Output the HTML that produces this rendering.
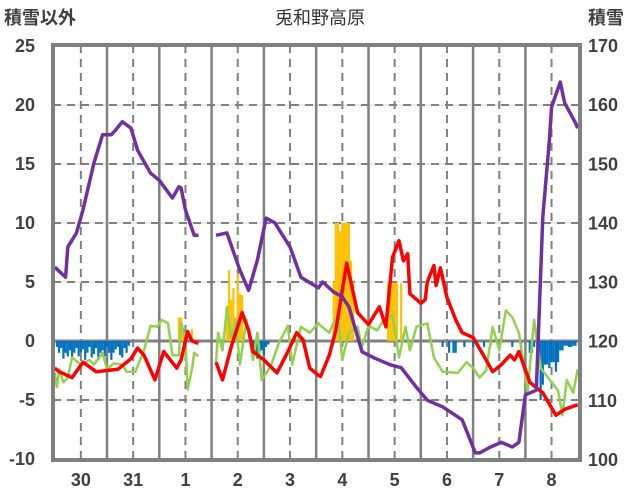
<!DOCTYPE html>
<html><head><meta charset="utf-8">
<style>
html,body{margin:0;padding:0;background:#fff;}
svg{display:block;font-family:"Liberation Sans","Noto Sans CJK JP",sans-serif;}
</style></head>
<body>
<svg id="chart" width="636" height="501" viewBox="0 0 636 501" xmlns="http://www.w3.org/2000/svg">
<text x="320" y="24" text-anchor="middle" font-size="18" fill="#333">兎和野高原</text>
<text x="4" y="24" font-size="18" font-weight="bold" fill="#404040">積雪以外</text>
<text x="588" y="24" font-size="18" font-weight="bold" fill="#404040">積雪</text>
<g id="grid"></g>
<g id="bars"></g>
<g id="lines"></g>
<g id="axes"></g>
</svg>
<script>
const dayLabels=["30","31","1","2","3","4","5","6","7","8"];
const leftTicks=[25,20,15,10,5,0,-5,-10];
const rightTicks=[170,160,150,140,130,120,110,100];

const purpleHours=[0,5,6,10,13,18,22,26,28,31,35,38,44,48,54,57,58,60,64,66,null,74,79,85,89,93,97,101,108,113,121,123,128,132,135,141,147,154,159,166,171,178,187,193,195,200,205,210,213,216,221,224,227,228,232,234,239,240];
const purpleSnow=[132.6,130.9,136.0,138.4,142.3,150.2,155.0,155.0,155.8,157.2,156.1,152.4,148.5,147.3,144.3,146.2,146.0,142.3,138.0,138.0,null,138.0,138.4,132.1,128.7,133.8,140.9,140.1,136.0,130.9,129.1,130.1,128.4,127.6,125.9,118.3,117.2,116.1,115.6,112.3,110.1,109.0,106.8,101.2,101.2,102.2,103.0,102.2,103.0,111.0,111.8,141.1,154.1,159.7,163.9,160.4,157.0,156.1];

const redHours=[0,2,8,13,19,29,35,38,41,46,50,56,58,61,63,66,null,74,77,81,86,89,91,96,102,107,111,114,117,121,122,126,129,134,139,144,149,152,155,158,160,162,163,168,170,171,174,175,177,180,184,187,192,197,201,205,209,211,213,218,224,230,234,240];
const redTemp=[-2.3,-2.6,-3.1,-1.8,-2.6,-2.4,-1.5,-0.6,-1.2,-3.3,-0.9,-2.3,-1.6,0.8,0.0,-0.2,null,-1.8,-3.3,-0.5,2.4,0.9,-0.9,-1.6,-2.7,-0.9,0.7,0.1,-2.3,-2.9,-3.0,-1.2,0.9,6.6,2.4,1.4,2.9,1.2,7.1,8.5,6.8,7.4,4.0,3.2,3.5,5.0,6.4,4.7,6.2,3.7,1.8,0.7,0.3,-1.3,-2.6,-2.0,-1.2,-1.6,-0.9,-3.5,-4.4,-6.3,-5.8,-5.4];

const greenHours=[0,1,2,4,6,8,12,16,18,22,24,27,31,33,37,41,44,47,49,52,54,57,58,60,61,63,64,66,null,74,75,77,79,81,83,85,88,91,93,95,99,103,107,109,113,117,121,122,126,130,132,135,139,141,144,148,151,155,158,161,163,166,171,174,178,185,189,192,195,198,201,204,207,210,213,217,220,223,231,233,235,238,240];
const greenValue=[-2.7,-3.9,-2.4,-3.5,-3.1,-1.4,-2.0,-1.6,-2.0,-1.0,-2.4,-1.9,-2.0,-2.6,-2.6,-0.8,1.3,1.2,1.8,1.5,-1.2,-1.2,1.6,0.1,-4.1,-2.4,-1.0,-1.3,null,-1.8,0.7,-0.8,2.8,0.3,1.8,-2.0,1.8,-1.6,0.7,-3.3,-2.2,-0.1,1.3,-2.0,1.2,0.7,1.5,1.3,0.7,2.4,-1.6,0.7,1.2,-0.5,1.3,0.9,1.8,2.2,-1.4,1.2,-0.8,1.2,1.5,-1.4,-2.6,-2.7,-1.8,-2.3,-3.1,-2.5,1.2,-0.8,2.6,2.0,0.7,-4.3,1.8,-2.3,-4.2,-6.3,-3.3,-4.4,-2.4];

const orangeHours=[57,58,59,63,79,80,81,82,83,84,85,86,128,129,130,131,132,133,134,135,136,137,153,154,155,156,157,159];
const orangeValue=[2,2,1,1,3,6,3.5,4.5,2,5.7,4,3.9,5,10,10,9.3,10,10,10,10,6.8,5,4.9,4.9,4.9,4.9,4.9,4.9];

const blueHours=[1,2,3,4,5,6,7,8,9,10,11,12,13,14,15,16,17,18,19,20,21,22,23,24,25,26,27,28,29,30,31,32,33,34,91,92,93,94,95,96,97,98,178,181,183,184,188,192,197,200,210,214,218,219,220,222,223,224,225,226,227,228,229,230,231,232,233,234,235,236,237,238,239];
const blueValue=[-0.5,-1,-0.6,-1.5,-1,-1.3,-0.8,-1.5,-1,-0.6,-1.3,-1,-0.7,-1.6,-1,-0.5,-1.4,-1.1,-0.6,-1.6,-1,-0.8,-1.3,-0.5,-1,-1.6,-1,-0.7,-0.5,-1.2,-1.4,-0.6,-1,-0.4,-0.5,-1,-1.5,-1,-0.8,-1.2,-0.5,-0.3,-0.5,-1,-1,-1,-0.5,-0.5,-0.5,-0.4,-0.5,-1,-1,-1,-0.5,-0.5,-5,-3.7,-2,-2,-2.3,-1.8,-1.8,-2.6,-1.8,-0.8,-0.8,-0.4,-0.4,-0.5,-0.5,-0.4,-0.4];

const NS="http://www.w3.org/2000/svg";
const PL=53,PR=580,PT=45,PB=460;
const X0=54.7, PXH=52.3/24;
function xH(h){return X0+h*PXH;}
function yL(v){return 341-v*(341-46)/25;}
function yR(v){return PB-(v-100)*(PB-46)/70;}
function mk(tag,attrs,parent){const e=document.createElementNS(NS,tag);for(const k in attrs)e.setAttribute(k,attrs[k]);parent.appendChild(e);return e;}

const grid=document.getElementById('grid'),axes=document.getElementById('axes'),bars=document.getElementById('bars'),lines=document.getElementById('lines');
// horizontal grid
leftTicks.forEach(v=>{
  if(v===25||v===-10)return;
  const y=yL(v);
  if(v===0){const l=mk('line',{x1:PL,x2:PR,y1:y,y2:y,stroke:'#808080','stroke-width':3},grid);
    return;}
  const a=mk('line',{x1:PL,x2:PR,y1:y,y2:y,stroke:'#d9d9d9','stroke-width':1},grid);
  
  const b=mk('line',{x1:PL,x2:PR,y1:y,y2:y,stroke:'#808080','stroke-width':2,'stroke-dasharray':'8,6'},grid);
  
});
// vertical grid
for(let d=0;d<=10;d++){
  const xb=xH(d*24);
  if(d>0&&d<10){const l=mk('line',{x1:xb,x2:xb,y1:PT,y2:PB,stroke:'#808080','stroke-width':2.5},grid);
    }
  if(d<10){const xm=xH(d*24+12);
    const l=mk('line',{x1:xm,x2:xm,y1:PT,y2:PB,stroke:'#808080','stroke-width':2,'stroke-dasharray':'8,6'},grid);
    
    const t=mk('text',{x:xm,y:486,'text-anchor':'middle','font-size':18,'font-weight':'bold',fill:'#404040'},axes);
    t.textContent=dayLabels[d];
    }
}
// bars
const bw=PXH;
orangeHours.forEach((h,i)=>{const v=orangeValue[i];
  const r=mk('rect',{x:xH(h)-bw/2,y:yL(v),width:bw,height:yL(0)-yL(v),fill:'#ffc000'},bars);
  });
blueHours.forEach((h,i)=>{const v=blueValue[i];
  const r=mk('rect',{x:xH(h)-bw/2,y:yL(0),width:bw,height:yL(v)-yL(0),fill:'#0070c0'},bars);
  });
// lines
function path(hours,vals,yf){let d='',pen=false;
  hours.forEach((h,i)=>{if(h===null||vals[i]===null){pen=false;return;}
    d+=(pen?'L':'M')+xH(h).toFixed(1)+','+yf(vals[i]).toFixed(1);pen=true;});return d;}
const g=mk('path',{d:path(greenHours,greenValue,yL),fill:'none',stroke:'#92d050','stroke-width':2.5,'stroke-linejoin':'round'},lines);

const rd=mk('path',{d:path(redHours,redTemp,yL),fill:'none',stroke:'#ff0000','stroke-width':3.5,'stroke-linejoin':'round'},lines);

const pp=mk('path',{d:path(purpleHours,purpleSnow,yR),fill:'none',stroke:'#7030a0','stroke-width':3.5,'stroke-linejoin':'round'},lines);

// frame
const fr=mk('rect',{x:PL,y:PT,width:PR-PL,height:PB-PT,fill:'none',stroke:'#808080','stroke-width':4},axes);

// tick labels
leftTicks.forEach(v=>{const t=mk('text',{x:35,y:yL(v)+6,'text-anchor':'end','font-size':18,'font-weight':'bold',fill:'#404040'},axes);
  t.textContent=v;});
rightTicks.forEach(v=>{const t=mk('text',{x:588,y:yR(v)+6,'font-size':18,'font-weight':'bold',fill:'#404040'},axes);
  t.textContent=v;});
</script>
</body></html>
